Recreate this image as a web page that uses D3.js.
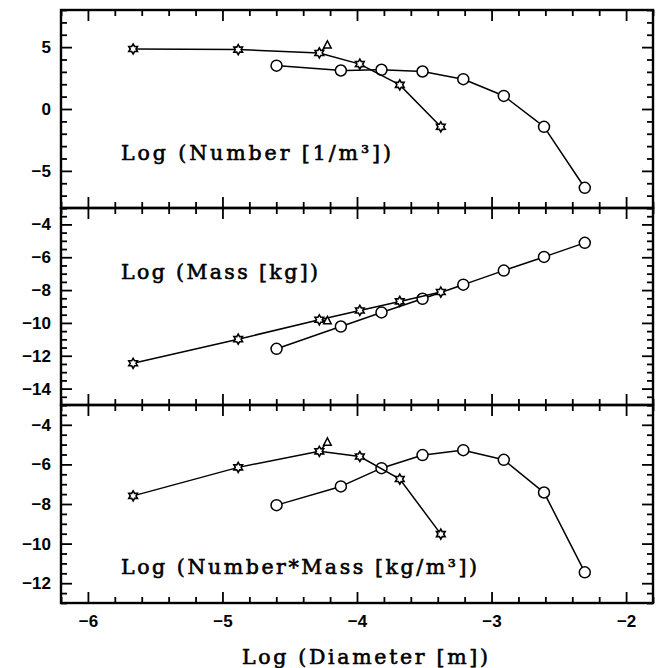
<!DOCTYPE html>
<html><head><meta charset="utf-8">
<script src="https://cdn.jsdelivr.net/npm/d3@7"></script>
<style>
html,body{margin:0;padding:0;background:#fff;}
svg{display:block;}
</style></head>
<body>
<svg id="chart" width="658" height="668"></svg>
<script>
// ---- data ----
const starX = [-5.664, -4.883, -4.28, -3.979, -3.682, -3.377];
const circX = [-4.598, -4.12, -3.818, -3.513, -3.21, -2.909, -2.61, -2.307];
const triX  = [-4.22];

const starNumber = [4.85, 4.8, 4.53, 3.63, 1.95, -1.44];
const circNumber = [3.5, 3.11, 3.17, 3.03, 2.41, 1.06, -1.44, -6.37];
const triNumber  = [5.15];

const starMass = [-12.46, -10.99, -9.81, -9.24, -8.69, -8.12];
const circMass = [-11.58, -10.22, -9.36, -8.53, -7.67, -6.81, -5.98, -5.12];
const triMass  = [-9.88];

const starNM = [-7.59, -6.15, -5.34, -5.6, -6.74, -9.52];
const circNM = [-8.06, -7.11, -6.19, -5.53, -5.28, -5.77, -7.42, -11.45];
const triNM  = [-4.89];

const xMajorTicks = [-6, -5, -4, -3, -2];
const panelTitles = ["Log (Number [1/m³])", "Log (Mass [kg])", "Log (Number*Mass [kg/m³])"];
const xTitle = "Log (Diameter [m])";

// ---- layout ----
const svg = d3.select("#chart");
const L = 61, R = 653;
const x = d3.scaleLinear().domain([-6.2, -1.8]).range([L, R]);
const xMinor = d3.range(-6.2, -1.79, 0.2).map(v => +v.toFixed(2)).filter(v => Math.abs(v - Math.round(v)) > 1e-6);

const panels = [
  {top: 10, bottom: 208, domain: [-8, 8], major: [-5, 0, 5], minorStep: 1,
   sy: starNumber, cy: circNumber, ty: triNumber, title: panelTitles[0], tx: 121, tyT: 160, tw: 270},
  {top: 208, bottom: 405, domain: [-15, -3], major: [-14, -12, -10, -8, -6, -4], minorStep: 0.5,
   sy: starMass, cy: circMass, ty: triMass, title: panelTitles[1], tx: 121, tyT: 279, tw: 197},
  {top: 405, bottom: 603, domain: [-13, -3], major: [-12, -10, -8, -6, -4], minorStep: 0.5,
   sy: starNM, cy: circNM, ty: triNM, title: panelTitles[2], tx: 121, tyT: 574, tw: 356}
];

const MAJ = 11, MIN = 6;
const fmt = d3.format("d");

function hexagram(r1, r2) {
  const pts = d3.range(12).map(k => {
    const a = -Math.PI / 2 + k * Math.PI / 6;
    const r = k % 2 === 0 ? r1 : r2;
    return [r * Math.cos(a), r * Math.sin(a)];
  });
  return "M" + pts.map(p => p.join(",")).join("L") + "Z";
}

const titleStyle = sel => sel
  .style("font-family", "'DejaVu Serif', serif").style("font-size", "20.5px")
  .attr("fill", "#000").attr("stroke", "#000").attr("stroke-width", 0.6);

panels.forEach((p, i) => {
  const y = d3.scaleLinear().domain(p.domain).range([p.bottom, p.top]);
  const g = svg.append("g");
  const yMinor = d3.range(p.domain[0], p.domain[1] + 1e-9, p.minorStep)
    .filter(v => !p.major.some(m => Math.abs(m - v) < 1e-9));

  const styleAxis = sel => {
    sel.select(".domain").remove();
    sel.selectAll("line").attr("stroke", "#000").attr("stroke-width", 1.8);
    sel.selectAll("text").attr("fill", "#000")
      .style("font-family", "'Liberation Sans', Arial, sans-serif")
      .style("font-weight", "bold").style("font-size", "17px");
  };

  // left axis
  g.append("g").attr("transform", `translate(${L},0)`)
    .call(d3.axisLeft(y).tickValues(p.major).tickSizeInner(-MAJ).tickSizeOuter(0).tickPadding(10).tickFormat(fmt))
    .call(styleAxis);
  g.append("g").attr("transform", `translate(${L},0)`)
    .call(d3.axisLeft(y).tickValues(yMinor).tickSizeInner(-MIN).tickSizeOuter(0).tickFormat(""))
    .call(styleAxis);
  // right axis
  g.append("g").attr("transform", `translate(${R},0)`)
    .call(d3.axisRight(y).tickValues(p.major).tickSizeInner(-MAJ).tickSizeOuter(0).tickFormat(""))
    .call(styleAxis);
  g.append("g").attr("transform", `translate(${R},0)`)
    .call(d3.axisRight(y).tickValues(yMinor).tickSizeInner(-MIN).tickSizeOuter(0).tickFormat(""))
    .call(styleAxis);
  // top ticks
  g.append("g").attr("transform", `translate(0,${p.top})`)
    .call(d3.axisTop(x).tickValues(xMajorTicks).tickSizeInner(-MAJ).tickSizeOuter(0).tickFormat(""))
    .call(styleAxis);
  g.append("g").attr("transform", `translate(0,${p.top})`)
    .call(d3.axisTop(x).tickValues(xMinor).tickSizeInner(-MIN).tickSizeOuter(0).tickFormat(""))
    .call(styleAxis);
  // bottom ticks
  g.append("g").attr("transform", `translate(0,${p.bottom})`)
    .call(d3.axisBottom(x).tickValues(xMajorTicks).tickSizeInner(-MAJ).tickSizeOuter(0)
      .tickPadding(12).tickFormat(i === 2 ? fmt : ""))
    .call(styleAxis);
  g.append("g").attr("transform", `translate(0,${p.bottom})`)
    .call(d3.axisBottom(x).tickValues(xMinor).tickSizeInner(-MIN).tickSizeOuter(0).tickFormat(""))
    .call(styleAxis);

  // frame
  g.append("rect").attr("x", L).attr("y", p.top).attr("width", R - L).attr("height", p.bottom - p.top)
    .attr("fill", "none").attr("stroke", "#000").attr("stroke-width", 2.4);

  // circle series lines, trimmed at circle edges
  const rc = 5.5;
  const cpts = circX.map((v, k) => [x(v), y(p.cy[k])]);
  const cpath = d3.path();
  for (let k = 0; k < cpts.length - 1; k++) {
    const [x0, y0] = cpts[k], [x1, y1] = cpts[k + 1];
    const d = Math.hypot(x1 - x0, y1 - y0);
    if (d <= 2 * rc) continue;
    const ux = (x1 - x0) / d, uy = (y1 - y0) / d;
    cpath.moveTo(x0 + ux * rc, y0 + uy * rc);
    cpath.lineTo(x1 - ux * rc, y1 - uy * rc);
  }
  g.append("path").attr("d", cpath.toString()).attr("fill", "none")
    .attr("stroke", "#000").attr("stroke-width", 1.5);

  // star series line
  const line = d3.line().x(d => x(d[0])).y(d => y(d[1]));
  g.append("path").attr("d", line(starX.map((v, k) => [v, p.sy[k]])))
    .attr("fill", "none").attr("stroke", "#000").attr("stroke-width", 1.5);
  // short connector from third star to triangle
  g.append("path").attr("d", line([[starX[2], p.sy[2]], [triX[0], p.ty[0]]]))
    .attr("fill", "none").attr("stroke", "#000").attr("stroke-width", 1.5);

  // circle markers
  g.selectAll(".cm").data(circX).join("circle")
    .attr("cx", d => x(d)).attr("cy", (d, k) => y(p.cy[k])).attr("r", rc)
    .attr("fill", "none").attr("stroke", "#000").attr("stroke-width", 1.5);

  // star markers
  const hex = hexagram(5.0, 2.9);
  g.selectAll(".sm").data(starX).join("path")
    .attr("d", hex)
    .attr("transform", (d, k) => `translate(${x(d)},${y(p.sy[k])})`)
    .attr("fill", "#fff").attr("stroke", "#000").attr("stroke-width", 1.6);

  // triangle marker
  g.selectAll(".tm").data(triX).join("path")
    .attr("d", "M0,-4.5L3.8,2.8L-3.8,2.8Z")
    .attr("transform", (d, k) => `translate(${x(d)},${y(p.ty[k])})`)
    .attr("fill", "#fff").attr("stroke", "#000").attr("stroke-width", 1.5);

  // panel title
  g.append("text").attr("x", p.tx).attr("y", p.tyT)
    .attr("textLength", p.tw).attr("lengthAdjust", "spacing")
    .call(titleStyle).text(p.title);
});

// x axis title
svg.append("text").attr("x", 242).attr("y", 664)
  .attr("textLength", 246).attr("lengthAdjust", "spacing")
  .call(titleStyle).text(xTitle);
</script>
</body></html>
